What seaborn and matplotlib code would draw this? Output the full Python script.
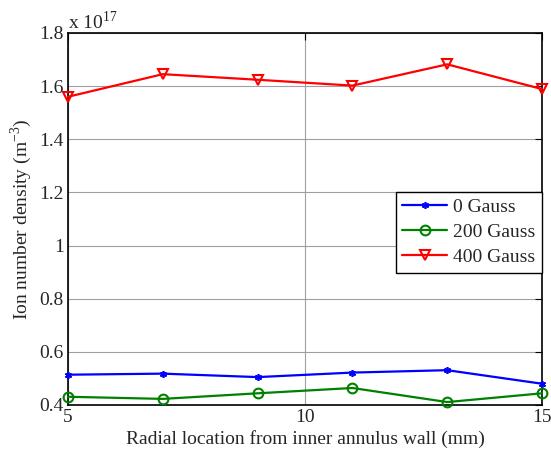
import matplotlib
matplotlib.use("Agg")
import matplotlib.pyplot as plt
import seaborn as sns
import pandas as pd
from matplotlib.ticker import FuncFormatter

x_mm = [5, 7, 9, 11, 13, 15]
gauss_0 = [0.514, 0.518, 0.505, 0.522, 0.531, 0.480]
gauss_200 = [0.431, 0.423, 0.444, 0.464, 0.411, 0.444]
gauss_400 = [1.560, 1.645, 1.624, 1.602, 1.682, 1.589]
series_names = ["0 Gauss", "200 Gauss", "400 Gauss"]
y_ticks = [0.4, 0.6, 0.8, 1.0, 1.2, 1.4, 1.6, 1.8]
x_ticks = [5, 10, 15]

sns.set_style("white")
plt.rcParams['font.family'] = ['Liberation Serif', 'DejaVu Serif']
plt.rcParams['mathtext.fontset'] = 'custom'
plt.rcParams['mathtext.rm'] = 'Liberation Serif'

fig = plt.figure(figsize=(5.51, 4.55), dpi=100)
ax = fig.add_axes([0.1234, 0.1099, 0.8603, 0.8176])

df = pd.DataFrame({
    "x": x_mm * 3,
    "y": gauss_0 + gauss_200 + gauss_400,
    "series": [series_names[0]] * 6 + [series_names[1]] * 6 + [series_names[2]] * 6,
})

styles = {
    "0 Gauss": dict(color="#0000ff", marker=(6, 2, 0), markersize=5, markeredgewidth=1.2),
    "200 Gauss": dict(color="#008000", marker="o", markersize=7, markerfacecolor="none", markeredgewidth=1.5),
    "400 Gauss": dict(color="#ff0000", marker="v", markersize=7.5, markerfacecolor="none", markeredgewidth=1.5),
}
for name in series_names:
    sub = df[df["series"] == name]
    st = styles[name]
    sns.lineplot(data=sub, x="x", y="y", ax=ax, label=name, linewidth=1.6,
                 color=st["color"], marker=st["marker"], markersize=st["markersize"],
                 markeredgecolor=st["color"], markerfacecolor=st.get("markerfacecolor", st["color"]),
                 markeredgewidth=st["markeredgewidth"], clip_on=False, zorder=3)

ax.set_xlim(5, 15)
ax.set_ylim(0.4, 1.8)
ax.set_xticks(x_ticks)
ax.set_yticks(y_ticks)
ax.yaxis.set_major_formatter(FuncFormatter(lambda v, p: f"{v:g}"))
ax.grid(True, color="#a0a0a0", linewidth=0.8)
ax.set_axisbelow(True)
ax.tick_params(direction="in", top=True, right=True, labelsize=14, length=5, color="black", pad=3)
for s in ax.spines.values():
    s.set_color("black")
    s.set_linewidth(1.2)
    s.set_zorder(2.5)

ax.set_xlabel("Radial location from inner annulus wall (mm)", fontsize=14, labelpad=3)
ax.set_ylabel("Ion number density (m$^{-3}$)", fontsize=14, labelpad=4)
ax.text(0.0, 1.0, r"x 10$^{17}$", transform=ax.transAxes, fontsize=14, ha="left", va="bottom")

leg = ax.legend(loc="upper right", bbox_to_anchor=(1.0, 0.573), fontsize=14, frameon=True,
                fancybox=False, edgecolor="black", framealpha=1, borderaxespad=0.0,
                handlelength=2.3, labelspacing=0.38, borderpad=0.35, handletextpad=0.3)
leg.get_frame().set_linewidth(1.0)
leg.set_zorder(5)

fig.savefig("out.png", dpi=100)
